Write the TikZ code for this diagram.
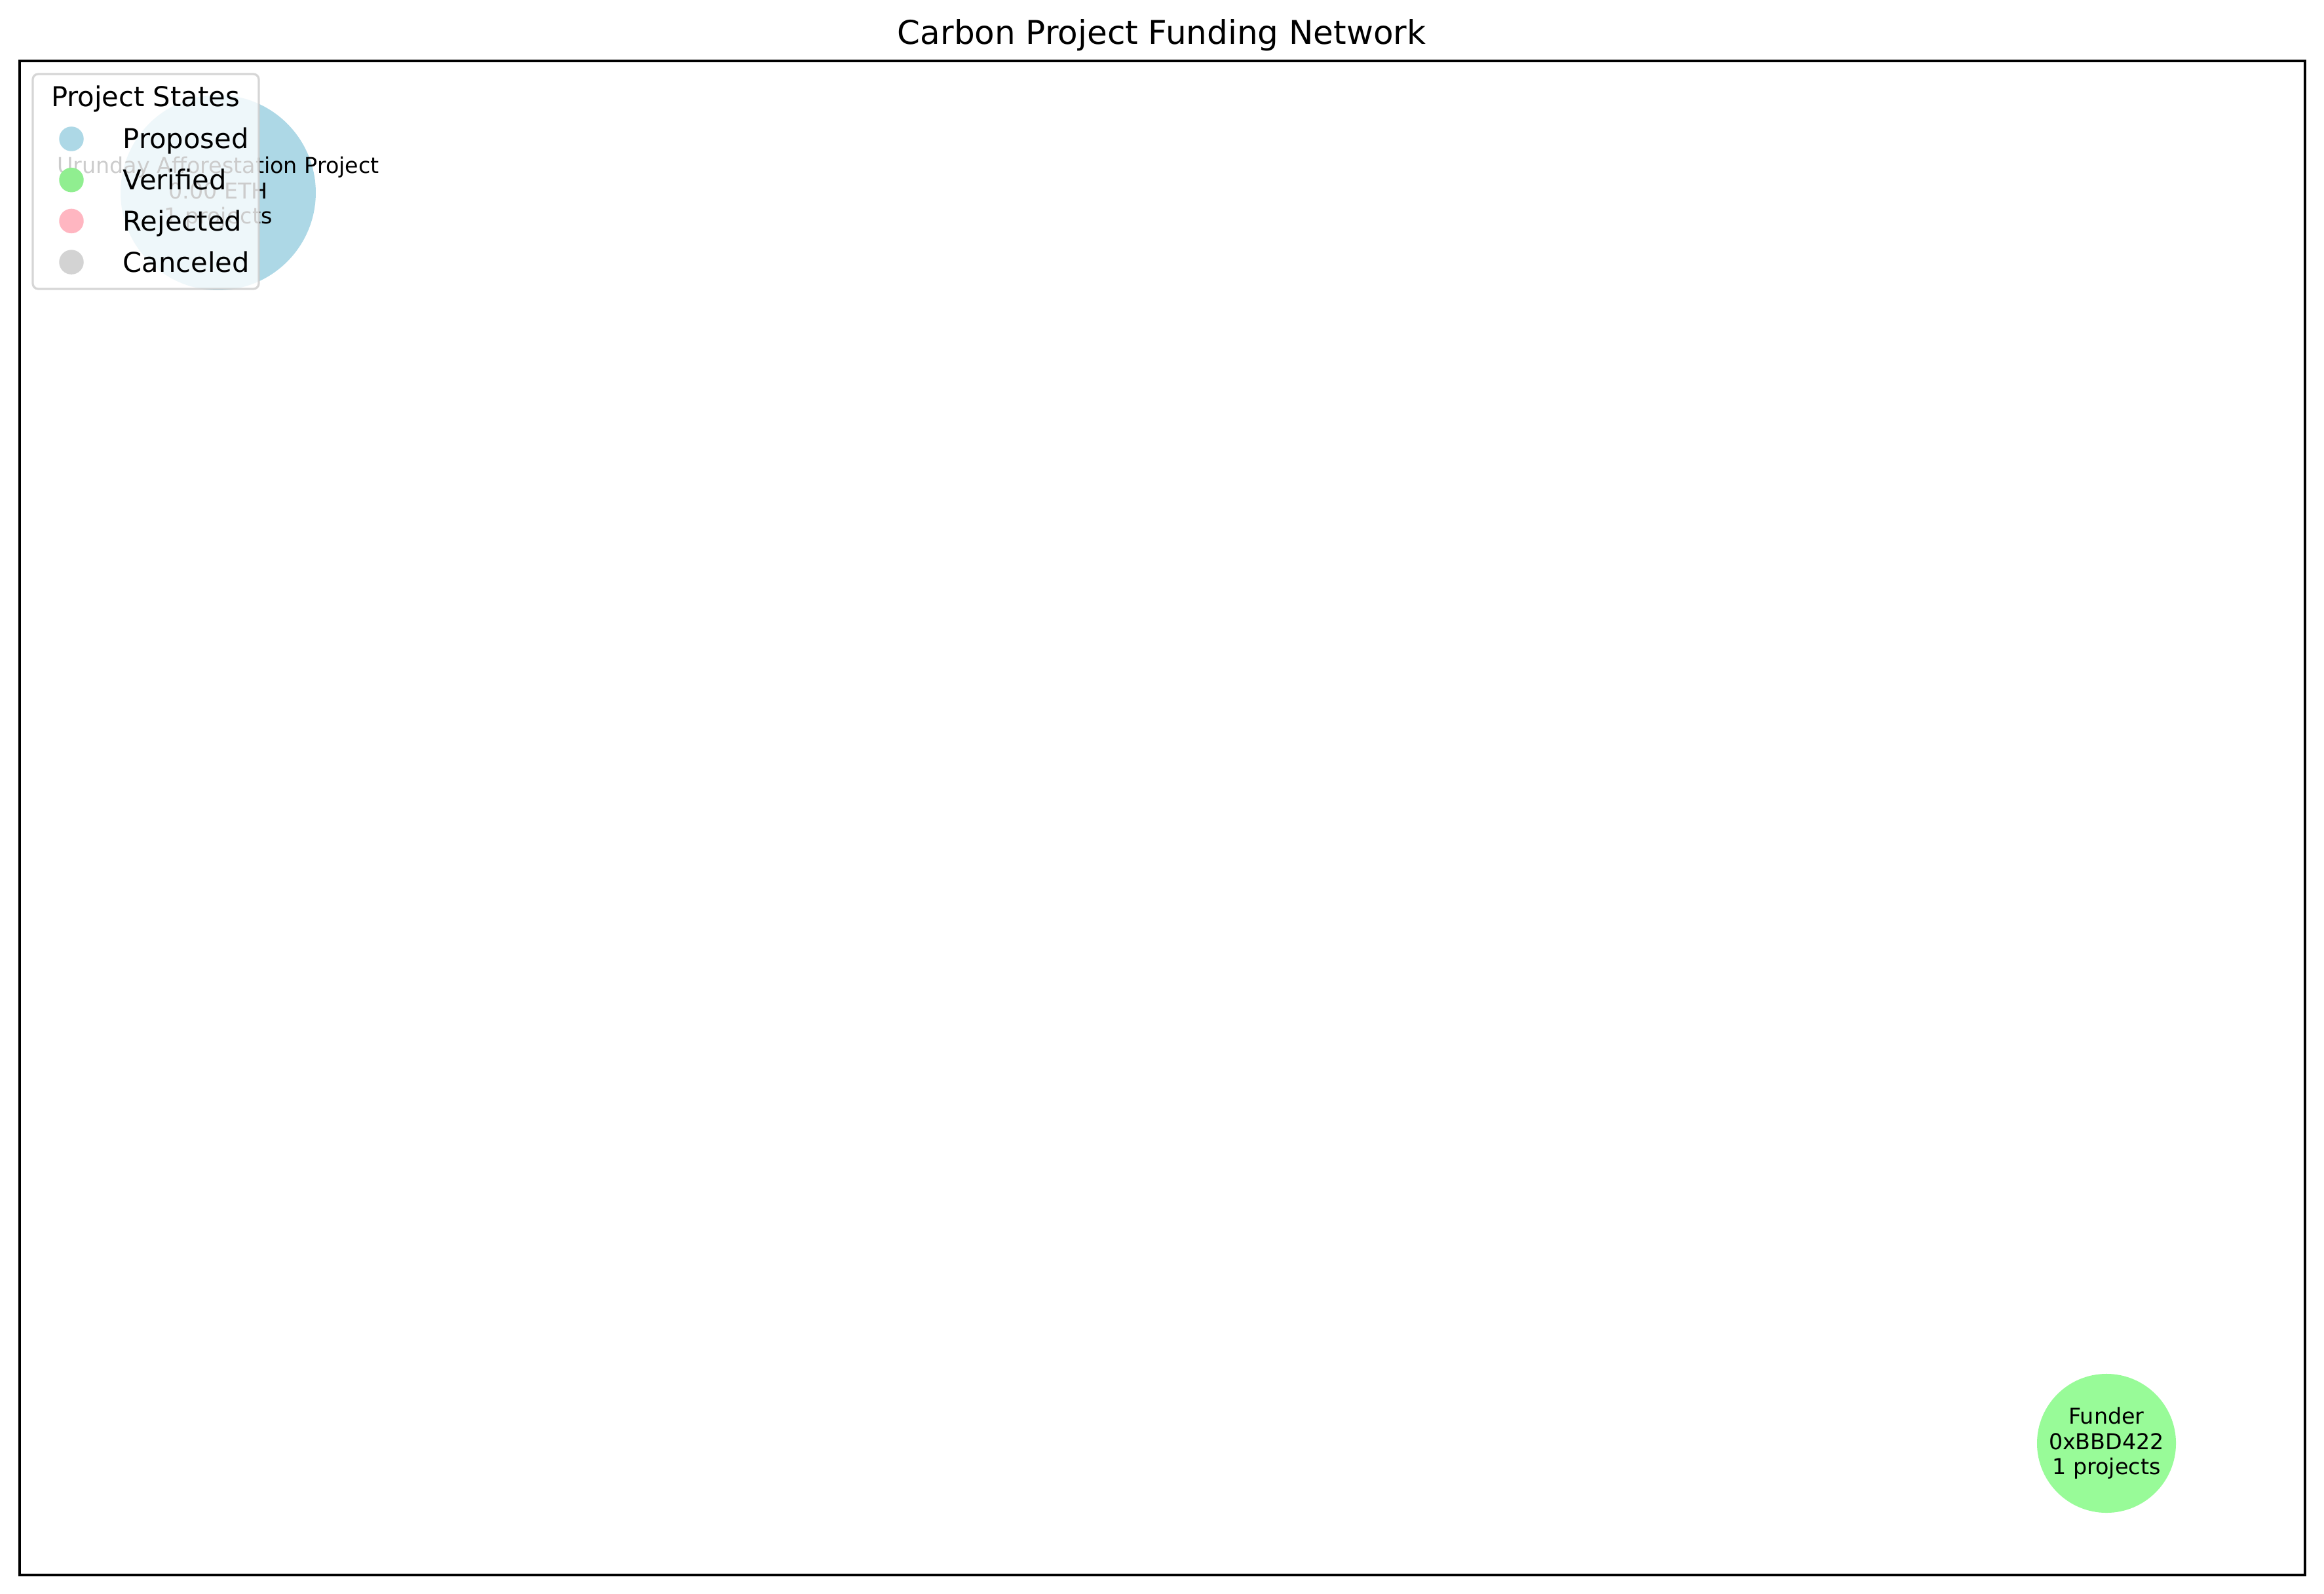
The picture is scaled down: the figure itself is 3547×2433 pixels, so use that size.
\documentclass[tikz,border=0pt]{standalone}
\usepackage{fontspec}
\setmainfont{DejaVu Sans}
\usepackage{tikz}
\usetikzlibrary{positioning}
\definecolor{proposedblue}{HTML}{ADD8E6}
\definecolor{verifiedgreen}{HTML}{90EE90}
\definecolor{rejectedpink}{HTML}{FFB6C1}
\definecolor{canceledgray}{HTML}{D3D3D3}
\definecolor{funderpale}{HTML}{98FB98}
\definecolor{legendedge}{HTML}{CCCCCC}

\begin{document}
\begin{tikzpicture}[
        x=0.24pt, y=-0.24pt,
        axesframe/.style={draw=black, line width=0.8pt},
        statedot/.style={circle, inner sep=0pt, draw=none},
        nodelabel/.style={align=center, inner sep=0pt, font=\fontsize{8}{9.2}\selectfont},
        legendbox/.style={fill=white, fill opacity=0.8, draw=legendedge, draw opacity=0.8, line width=0.8pt, rounded corners=2pt},
        legendtext/.style={font=\fontsize{10}{12}\selectfont, inner sep=0pt}
    ]
        \useasboundingbox (0,0) rectangle (3547,2433);

        % Title
        \node[font=\fontsize{12}{14}\selectfont, anchor=base, inner sep=0pt] (title) at (1773,68) {Carbon Project Funding Network};

        % Axes
        \draw[axesframe] (30,93) rectangle (3518,2404);

        % Project node
        \node[statedot, fill=proposedblue, minimum size=71.5pt] (urunday) at (333,294) {};
        \node[nodelabel] (urundaytext) at (urunday) {Urunday Afforestation Project\\0.00 ETH\\1 projects};

        % Funder node
        \node[statedot, fill=funderpale, minimum size=50.9pt] (funder) at (3215,2203) {};
        \node[nodelabel] (fundertext) at (funder) {Funder\\0xBBD422\\1 projects};

        % Legend
        \draw[legendbox] (50,113) rectangle (395,441);
        \node[legendtext, anchor=base] (legendtitle) at (222,163) {Project States};
        \foreach \state/\col [count=\i] in {Proposed/proposedblue, Verified/verifiedgreen, Rejected/rejectedpink, Canceled/canceledgray} {
            \node[statedot, fill=\col, minimum size=9pt] (dot\i) at (109,{212+(\i-1)*62.7}) {};
            \node[legendtext, anchor=base west] (lab\i) at (187,{227+(\i-1)*62.7}) {\state};
        }

    \end{tikzpicture}
\end{document}
